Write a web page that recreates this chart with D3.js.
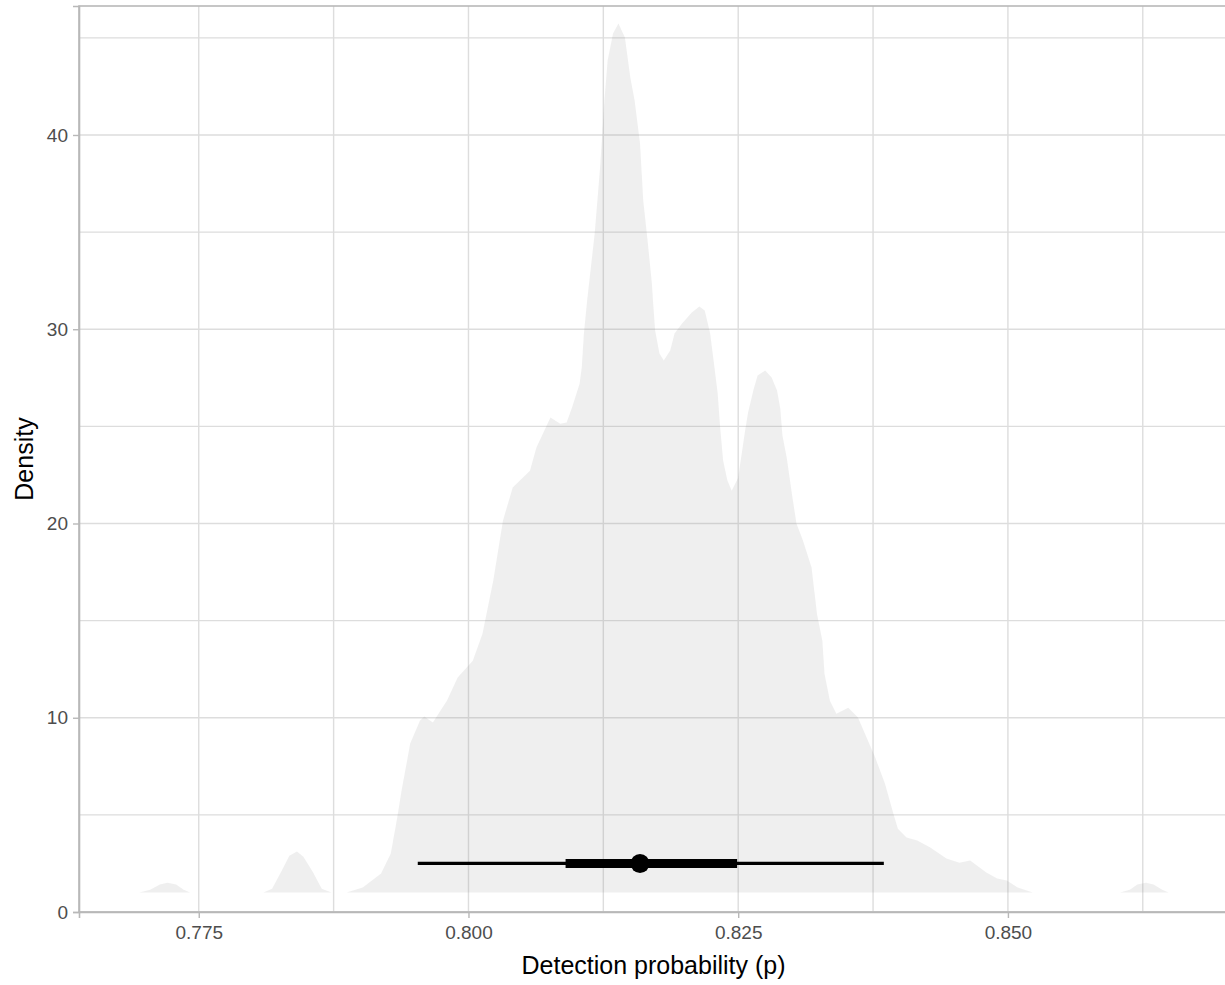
<!DOCTYPE html>
<html>

<head>
    <meta charset='utf-8'>
    <title>Detection probability</title>
    <script src='https://d3js.org/d3.v7.min.js'></script>
    <style>
        body { margin: 0; background: #fff; }
        text { font-family: 'Liberation Sans', Arial, sans-serif; }
    </style>
</head>

<body>
    <script>
        // posterior draws summarised as a density slab (height above the slab base)
        const slabP = [
            0.7695, 0.7705, 0.7714, 0.7721, 0.7729, 0.7736, 0.7742,
            0.7810, 0.7818, 0.7827, 0.7834, 0.7841, 0.7847, 0.7856, 0.7864, 0.7873,
            0.7887, 0.7902, 0.7919, 0.7928, 0.7934, 0.7938, 0.7946, 0.7955, 0.7959, 0.7967,
            0.7980, 0.7990, 0.8004, 0.8013, 0.8023, 0.8032, 0.8041, 0.8057, 0.8063, 0.8076,
            0.8085, 0.8091, 0.8096, 0.8103, 0.8105, 0.8107, 0.8110, 0.8117, 0.8122, 0.8126,
            0.8129, 0.8134, 0.8139, 0.8145, 0.8150, 0.8154, 0.8159, 0.8162, 0.8166, 0.8170,
            0.8171, 0.8173, 0.8177, 0.8181, 0.8187, 0.8191, 0.8198, 0.8207, 0.8214, 0.8219,
            0.8224, 0.8228, 0.8231, 0.8233, 0.8236, 0.8240, 0.8244, 0.8250, 0.8256, 0.8259,
            0.8264, 0.8268, 0.8275, 0.8281, 0.8286, 0.8289, 0.8291, 0.8295, 0.8300, 0.8304,
            0.8310, 0.8318, 0.8323, 0.8328, 0.8330, 0.8335, 0.8341, 0.8352, 0.8361, 0.8369,
            0.8377, 0.8386, 0.8393, 0.8398, 0.8406, 0.8416, 0.8428, 0.8443, 0.8455, 0.8465,
            0.8480, 0.8490, 0.8499, 0.8509, 0.8523,
            0.8604, 0.8613, 0.8620, 0.8628, 0.8635, 0.8643, 0.8649
        ];
        const slabDensity = [
            0, 0.15, 0.41, 0.51, 0.41, 0.15, 0,
            0, 0.2, 1.13, 1.9, 2.11, 1.85, 1.03, 0.2, 0,
            0, 0.26, 0.98, 2.01, 3.86, 5.25, 7.67, 8.85, 9.06, 8.75,
            9.88, 11.07, 11.94, 13.33, 16.06, 19.15, 20.85, 21.72, 22.91, 24.45,
            24.14, 24.2, 24.97, 26.2, 27.03, 28.78, 30.48, 33.93, 37.32, 40.77,
            42.83, 44.22, 44.74, 44.02, 41.96, 40.77, 38.56, 35.62, 33.57, 31.35,
            30.48, 28.93, 27.75, 27.39, 27.9, 28.78, 29.29, 29.86, 30.17, 29.96,
            28.78, 27.03, 25.69, 24.14, 22.24, 21.21, 20.69, 21.36, 23.63, 24.66,
            25.84, 26.62, 26.87, 26.51, 25.84, 24.92, 23.53, 22.39, 20.44, 19.0,
            18.12, 16.73, 14.36, 12.97, 11.27, 9.88, 9.21, 9.52, 9.01, 7.98,
            6.95, 5.61, 4.22, 3.29, 2.83, 2.68, 2.32, 1.75, 1.54, 1.65,
            1.03, 0.72, 0.62, 0.26, 0,
            0, 0.15, 0.41, 0.51, 0.41, 0.15, 0
        ];
        const slabBase = 1;

        // point + intervals (median, 66% and 95%)
        const median = 0.8159;
        const innerInterval = [0.8090, 0.8249];
        const outerInterval = [0.7953, 0.8385];
        const intervalLevel = 2.5;

        const xTicks = [0.775, 0.800, 0.825, 0.850];
        const xMinor = [0.7875, 0.8125, 0.8375, 0.8625];
        const yTicks = [0, 10, 20, 30, 40];
        const yMinor = [5, 15, 25, 35, 45];

        const width = 1225, height = 985;
        const margin = { top: 6, right: -3, bottom: 73, left: 79 };

        const svg = d3.select('body')
            .append('svg')
            .attr('width', width)
            .attr('height', height);

        const x = d3.scaleLinear()
            .domain([0.7639, 0.8704])
            .range([margin.left, width - margin.right]);

        const y = d3.scaleLinear()
            .domain([0, 46.64])
            .range([height - margin.bottom, margin.top]);

        const grid = svg.append('g')
            .attr('stroke', '#dddddd')
            .attr('stroke-width', 1.4);

        // grid lines, minor first
        grid.selectAll('.vgrid')
            .data(xMinor.concat(xTicks))
            .enter()
            .append('line')
            .attr('x1', d => x(d)).attr('x2', d => x(d))
            .attr('y1', y.range()[0]).attr('y2', y.range()[1]);

        grid.selectAll('.hgrid')
            .data(yMinor.concat(yTicks))
            .enter()
            .append('line')
            .attr('y1', d => y(d)).attr('y2', d => y(d))
            .attr('x1', x.range()[0]).attr('x2', x.range()[1]);

        // density slab
        const area = d3.area()
            .x((d, i) => x(slabP[i]))
            .y0(y(slabBase))
            .y1(d => y(slabBase + d));

        svg.append('path')
            .datum(slabDensity)
            .attr('fill', '#808080')
            .attr('fill-opacity', 0.13)
            .attr('d', area);

        // intervals
        svg.append('line')
            .attr('x1', x(outerInterval[0])).attr('x2', x(outerInterval[1]))
            .attr('y1', y(intervalLevel)).attr('y2', y(intervalLevel))
            .attr('stroke', '#000').attr('stroke-width', 3.3);

        svg.append('line')
            .attr('x1', x(innerInterval[0])).attr('x2', x(innerInterval[1]))
            .attr('y1', y(intervalLevel)).attr('y2', y(intervalLevel))
            .attr('stroke', '#000').attr('stroke-width', 9);

        svg.append('circle')
            .attr('cx', x(median))
            .attr('cy', y(intervalLevel))
            .attr('r', 9.5)
            .attr('fill', '#000');

        // panel border
        svg.append('rect')
            .attr('x', x.range()[0])
            .attr('y', y.range()[1])
            .attr('width', x.range()[1] - x.range()[0])
            .attr('height', y.range()[0] - y.range()[1])
            .attr('fill', 'none')
            .attr('stroke', '#b8b8b8')
            .attr('stroke-width', 1.6);

        // axes
        const xAxis = svg.append('g')
            .attr('transform', 'translate(0,' + y(0) + ')')
            .call(d3.axisBottom(x).tickValues(xTicks).tickFormat(d3.format('.3f')).tickSizeOuter(0).tickSize(6).tickPadding(8));

        const yAxis = svg.append('g')
            .attr('transform', 'translate(' + x.range()[0] + ',0)')
            .call(d3.axisLeft(y).tickValues(yTicks).tickSizeOuter(0).tickSize(6).tickPadding(5));

        [xAxis, yAxis].forEach(g => {
            g.select('.domain').attr('stroke', '#b8b8b8').attr('stroke-width', 1.6);
            g.selectAll('.tick line').attr('stroke', '#b8b8b8').attr('stroke-width', 1.4);
            g.selectAll('.tick text')
                .attr('fill', '#4d4d4d')
                .attr('font-size', '19px')
                .attr('font-family', "'Liberation Sans', Arial, sans-serif");
        });

        // axis titles
        svg.append('text')
            .attr('x', (x(0.7639) + x(0.8704)) / 2)
            .attr('y', 974)
            .attr('text-anchor', 'middle')
            .attr('font-size', '25px')
            .attr('fill', '#000')
            .text('Detection probability (p)');

        svg.append('text')
            .attr('transform', 'translate(33,' + (y.range()[0] + y.range()[1]) / 2 + ') rotate(-90)')
            .attr('text-anchor', 'middle')
            .attr('font-size', '25px')
            .attr('fill', '#000')
            .text('Density');
    </script>
</body>

</html>
